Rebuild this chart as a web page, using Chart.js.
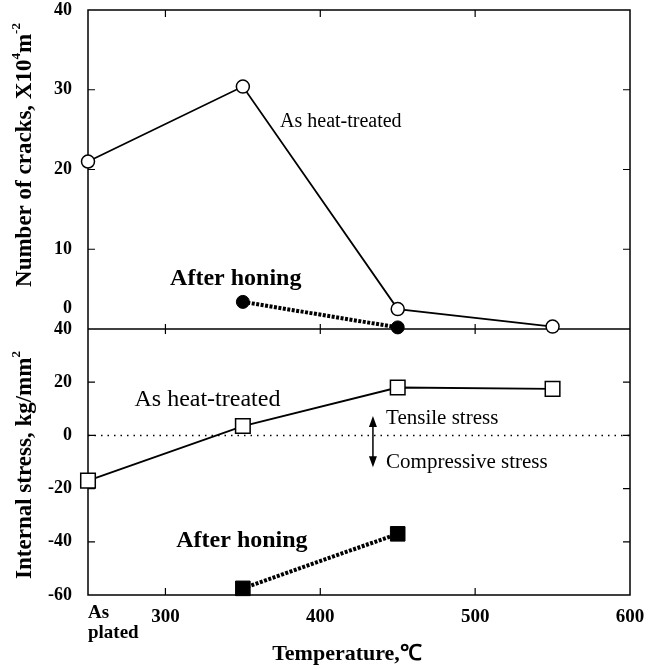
<!DOCTYPE html>
<html>
<head>
<meta charset="utf-8">
<script src="https://cdn.jsdelivr.net/npm/chart.js@4.4.0/dist/chart.umd.min.js"></script>
<style>
  html, body { margin: 0; padding: 0; background: #fff; }
</style>
</head>
<body>
<canvas id="chart" width="659" height="670"></canvas>
<script>
// temperatures, 250 stands for "As plated"
var temps       = [250, 350, 450, 550];
var honedTemps  = [350, 450];
var cracksHeat  = [21, 30.4, 2.5, 0.3];
var cracksHoned = [3.4, 0.2];
var stressHeat  = [-17, 3.5, 18, 17.5];
var stressHoned = [-57.5, -37];
var zeroLine    = [250, 600];

var xTicks      = [300, 400, 500, 600];
var cracksTicks = [0, 10, 20, 30, 40];
var stressTicks = [-60, -40, -20, 0, 20, 40];

var SERIF = '"Liberation Serif", "Times New Roman", serif';

function pts(xs, ys) {
    return xs.map(function (x, i) { return { x: x, y: ys[i] }; });
}

function fixTicks(list) {
    return function (s) { s.ticks = list.map(function (v) { return { value: v }; }); };
}

// fixed axis width, and no extra room for the end labels
function fitY(s) {
    s.width = 88;
    s.paddingTop = 0;
    s.paddingBottom = 0;
}

function richText(ctx, parts, x, y, rot) {
    ctx.save();
    ctx.translate(x, y);
    ctx.rotate(rot);
    ctx.textBaseline = 'middle';
    ctx.textAlign = 'left';
    var total = 0;
    parts.forEach(function (p) {
        ctx.font = 'bold ' + p.size + 'px ' + SERIF;
        p.w = ctx.measureText(p.t).width;
        total += p.w;
    });
    var cx = -total / 2;
    parts.forEach(function (p) {
        ctx.font = 'bold ' + p.size + 'px ' + SERIF;
        ctx.fillText(p.t, cx, p.dy || 0);
        cx += p.w;
    });
    ctx.restore();
}

var deco = {
    id: 'deco',
    beforeDatasetsDraw: function (chart) {
        var ctx = chart.ctx, a = chart.chartArea;
        var x = chart.scales.x, yt = chart.scales.yTop, yb = chart.scales.yBot;
        ctx.save();
        ctx.strokeStyle = '#000';
        ctx.lineWidth = 1.5;
        ctx.strokeRect(a.left, a.top, a.right - a.left, a.bottom - a.top);
        ctx.beginPath();
        ctx.moveTo(a.left, yt.bottom);
        ctx.lineTo(a.right, yt.bottom);
        ctx.stroke();

        // inward ticks
        ctx.lineWidth = 1.2;
        ctx.beginPath();
        [yt, yb].forEach(function (s) {
            s.ticks.forEach(function (t) {
                var py = s.getPixelForValue(t.value);
                if (py <= s.top + 1 || py >= s.bottom - 1) return;
                ctx.moveTo(a.left, py); ctx.lineTo(a.left + 7, py);
                ctx.moveTo(a.right, py); ctx.lineTo(a.right - 7, py);
            });
        });
        xTicks.slice(0, 3).forEach(function (v) {
            var px = x.getPixelForValue(v);
            ctx.moveTo(px, a.bottom); ctx.lineTo(px, a.bottom - 7);
            ctx.moveTo(px, a.top); ctx.lineTo(px, a.top + 7);
            ctx.moveTo(px, yt.bottom - 5); ctx.lineTo(px, yt.bottom + 5);
        });
        ctx.stroke();
        ctx.restore();
    },
    afterDraw: function (chart) {
        var ctx = chart.ctx, a = chart.chartArea;
        var x = chart.scales.x, yt = chart.scales.yTop, yb = chart.scales.yBot;
        ctx.save();
        ctx.fillStyle = '#000';
        ctx.strokeStyle = '#000';

        // shifted "0" of the upper axis
        ctx.font = 'bold 18px ' + SERIF;
        ctx.textAlign = 'right';
        ctx.textBaseline = 'middle';
        ctx.fillText('0', a.left - 16, yt.getPixelForValue(0) - 21);

        // "As plated"
        ctx.font = 'bold 19px ' + SERIF;
        ctx.textAlign = 'left';
        ctx.fillText('As', x.getPixelForValue(250), 613);
        ctx.fillText('plated', x.getPixelForValue(250), 633);

        // x title
        ctx.font = 'bold 22px ' + SERIF;
        ctx.textAlign = 'center';
        ctx.fillText('Temperature,\u2103', 347, 654);

        // y titles
        richText(ctx, [
            { t: 'Number of cracks, X10', size: 23 },
            { t: '4', size: 13, dy: -8 },
            { t: 'm', size: 23 },
            { t: '-2', size: 13, dy: -8 }
        ], 25, 155, -Math.PI / 2);
        richText(ctx, [
            { t: 'Internal stress, kg/mm', size: 23 },
            { t: '2', size: 13, dy: -8 }
        ], 25, 465, -Math.PI / 2);

        // annotations
        ctx.textAlign = 'left';
        ctx.font = '20px ' + SERIF;
        ctx.fillText('As heat-treated', x.getPixelForValue(374), yt.getPixelForValue(26));
        ctx.font = 'bold 24px ' + SERIF;
        ctx.fillText('After honing', x.getPixelForValue(303), yt.getPixelForValue(6.3));

        ctx.font = '24px ' + SERIF;
        ctx.fillText('As heat-treated', x.getPixelForValue(280), yb.getPixelForValue(13.3));
        ctx.font = '21px ' + SERIF;
        ctx.fillText('Tensile stress', x.getPixelForValue(442.5), yb.getPixelForValue(6.5));
        ctx.fillText('Compressive stress', x.getPixelForValue(442.5), yb.getPixelForValue(-10));
        ctx.font = 'bold 24px ' + SERIF;
        ctx.fillText('After honing', x.getPixelForValue(307), yb.getPixelForValue(-39.7));

        // tensile / compressive arrow
        var ax = x.getPixelForValue(434);
        var top = yb.getPixelForValue(7.3), bot = yb.getPixelForValue(-12);
        ctx.lineWidth = 1.5;
        ctx.beginPath();
        ctx.moveTo(ax, top + 8); ctx.lineTo(ax, bot - 8);
        ctx.stroke();
        ctx.beginPath();
        ctx.moveTo(ax, top); ctx.lineTo(ax - 4, top + 11); ctx.lineTo(ax + 4, top + 11); ctx.closePath();
        ctx.moveTo(ax, bot); ctx.lineTo(ax - 4, bot - 11); ctx.lineTo(ax + 4, bot - 11); ctx.closePath();
        ctx.fill();
        ctx.restore();
    }
};

var tickFont = { family: SERIF, size: 18, weight: 'bold' };

new Chart(document.getElementById('chart'), {
    type: 'scatter',
    data: {
        datasets: [
            {
                data: pts(zeroLine, [0, 0]),
                yAxisID: 'yBot',
                showLine: true,
                borderColor: '#000',
                borderWidth: 1.5,
                borderDash: [1.5, 5],
                pointRadius: 0,
                clip: false
            },
            {
                data: pts(temps, cracksHeat),
                yAxisID: 'yTop',
                showLine: true,
                borderColor: '#000',
                borderWidth: 1.8,
                pointStyle: 'circle',
                pointRadius: 6.5,
                pointBorderWidth: 1.5,
                pointBorderColor: '#000',
                pointBackgroundColor: '#fff',
                clip: false
            },
            {
                data: pts(honedTemps, cracksHoned),
                yAxisID: 'yTop',
                showLine: true,
                borderColor: '#000',
                borderWidth: 4,
                borderDash: [3, 1.5],
                pointStyle: 'circle',
                pointRadius: 6.5,
                pointBorderWidth: 1,
                pointBorderColor: '#000',
                pointBackgroundColor: '#000',
                clip: false
            },
            {
                data: pts(temps, stressHeat),
                yAxisID: 'yBot',
                showLine: true,
                borderColor: '#000',
                borderWidth: 1.8,
                pointStyle: 'rect',
                pointRadius: 10.3,
                pointBorderWidth: 1.5,
                pointBorderColor: '#000',
                pointBackgroundColor: '#fff',
                clip: false
            },
            {
                data: pts(honedTemps, stressHoned),
                yAxisID: 'yBot',
                showLine: true,
                borderColor: '#000',
                borderWidth: 4,
                borderDash: [3, 1.5],
                pointStyle: 'rect',
                pointRadius: 10.3,
                pointBorderWidth: 1,
                pointBorderColor: '#000',
                pointBackgroundColor: '#000',
                clip: false
            }
        ]
    },
    options: {
        responsive: false,
        devicePixelRatio: 1,
        animation: false,
        layout: { autoPadding: false, padding: { top: 10, right: 29, left: 0, bottom: 0 } },
        plugins: { legend: { display: false }, tooltip: { enabled: false } },
        scales: {
            x: {
                type: 'linear',
                min: 250, max: 600,
                afterBuildTicks: fixTicks(xTicks),
                afterFit: function (s) { s.height = 75; },
                grid: { display: false, drawTicks: false },
                border: { display: false },
                ticks: { color: '#000', font: { family: SERIF, size: 19, weight: 'bold' }, padding: 11, maxRotation: 0 }
            },
            // the lower panel is listed first: stacked boxes are placed from the bottom
            yBot: {
                type: 'linear',
                position: 'left',
                stack: 'panels',
                stackWeight: 266,
                min: -60, max: 40,
                afterBuildTicks: fixTicks(stressTicks),
                afterFit: fitY,
                grid: { display: false, drawTicks: false },
                border: { display: false },
                ticks: { color: '#000', font: tickFont, padding: 16 }
            },
            yTop: {
                type: 'linear',
                position: 'left',
                stack: 'panels',
                stackWeight: 319,
                min: 0, max: 40,
                afterBuildTicks: fixTicks(cracksTicks),
                afterFit: fitY,
                grid: { display: false, drawTicks: false },
                border: { display: false },
                ticks: {
                    color: '#000', font: tickFont, padding: 16,
                    callback: function (v) { return v === 0 ? '' : v; }
                }
            }
        }
    },
    plugins: [deco]
});
</script>
</body>
</html>
